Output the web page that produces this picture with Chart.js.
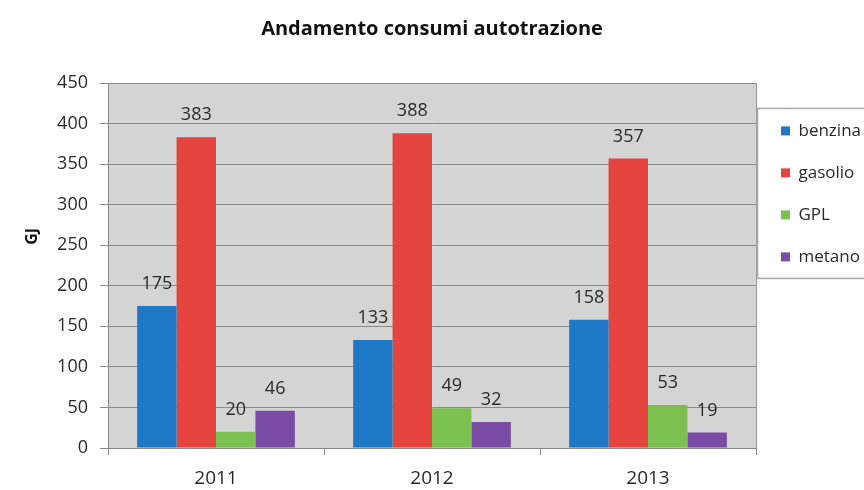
<!DOCTYPE html>
<html>
<head>
<meta charset="utf-8">
<script src="https://cdn.jsdelivr.net/npm/chart.js@4.4.1/dist/chart.umd.min.js"></script>
<style>
  body { margin: 0; background: #fff; }
  #wrap { width: 864px; height: 490px; }
</style>
</head>
<body>
<div id="wrap"><canvas id="consumiChart" width="864" height="490"></canvas></div>
<script>
var anni = ["2011", "2012", "2013"];
var benzina = [175, 133, 158];
var gasolio = [383, 388, 357];
var gpl = [20, 49, 53];
var metano = [46, 32, 19];
var nomiSerie = ["benzina", "gasolio", "GPL", "metano"];
var coloriSerie = ["#1f78c6", "#e5443f", "#7cc04f", "#7b4ca6"];

var FONT = "'Open Sans', sans-serif";
var TXT = "#2a2a2a";

// sfondo grigio dell'area del grafico + bordo
var sfondoPlot = {
    id: "sfondoPlot",
    beforeDraw: function (chart) {
        var a = chart.chartArea;
        var ctx = chart.ctx;
        ctx.save();
        ctx.fillStyle = "#d4d4d4";
        ctx.fillRect(a.left, a.top, a.right - a.left, a.bottom - a.top);
        ctx.restore();
    },
    afterDraw: function (chart) {
        var a = chart.chartArea;
        var ctx = chart.ctx;
        ctx.save();
        ctx.strokeStyle = "#9a9a9a";
        ctx.lineWidth = 1;
        ctx.beginPath();
        ctx.moveTo(a.right + 0.5, a.top);
        ctx.lineTo(a.right + 0.5, a.bottom);
        ctx.stroke();
        // cornice della legenda
        var lg = chart.legend;
        if (lg && lg.legendHitBoxes && lg.legendHitBoxes.length) {
            var hb = lg.legendHitBoxes;
            var top = hb[0].top - 14;
            var bottom = hb[hb.length - 1].top + hb[hb.length - 1].height + 13;
            ctx.strokeStyle = "#a8a8a8";
            ctx.lineWidth = 1.5;
            ctx.strokeRect(lg.left + 1.5, top, lg.width + 20, bottom - top);
        }
        ctx.restore();
    }
};

// valori sopra le barre
var etichette = {
    id: "etichette",
    afterDatasetsDraw: function (chart) {
        var ctx = chart.ctx;
        ctx.save();
        ctx.font = "18px " + FONT;
        ctx.fillStyle = TXT;
        ctx.textAlign = "center";
        ctx.textBaseline = "middle";
        chart.data.datasets.forEach(function (ds, i) {
            var meta = chart.getDatasetMeta(i);
            meta.data.forEach(function (bar, j) {
                ctx.fillText(String(ds.data[j]), bar.x, bar.y - 22);
            });
        });
        ctx.restore();
    }
};

var serie = [benzina, gasolio, gpl, metano];
var datasets = serie.map(function (valori, i) {
    return {
        label: nomiSerie[i],
        data: valori,
        backgroundColor: coloriSerie[i],
        borderWidth: 0,
        barPercentage: 1,
        categoryPercentage: 0.73
    };
});

var ctx = document.getElementById("consumiChart").getContext("2d");
var chart = new Chart(ctx, {
    type: "bar",
    data: { labels: anni, datasets: datasets },
    options: {
        responsive: false,
        animation: false,
        layout: { padding: 0 },
        plugins: {
            title: {
                display: true,
                text: "Andamento consumi autotrazione",
                color: "#111",
                font: { family: FONT, size: 20, weight: "bold" },
                padding: { top: 17, bottom: 42 }
            },
            legend: {
                position: "right",
                align: "start",
                fullSize: false,
                maxWidth: 108,
                title: { display: true, text: " ", font: { size: 12 }, padding: 0 },
                labels: {
                    boxWidth: 9,
                    boxHeight: 9,
                    padding: 25,
                    color: TXT,
                    font: { family: FONT, size: 17 }
                }
            },
            tooltip: { enabled: false }
        },
        scales: {
            x: {
                grid: {
                    offset: true,
                    drawOnChartArea: false,
                    drawTicks: true,
                    tickLength: 7,
                    color: "#8a8a8a"
                },
                border: { color: "#8a8a8a" },
                ticks: {
                    color: TXT,
                    padding: 12,
                    font: { family: FONT, size: 19 }
                },
                afterFit: function (scale) { scale.height = 42; }
            },
            y: {
                min: 0,
                max: 450,
                ticks: {
                    stepSize: 50,
                    color: TXT,
                    padding: 12,
                    font: { family: FONT, size: 18 }
                },
                grid: { color: "#8a8a8a", tickLength: 8 },
                border: { color: "#8a8a8a" },
                title: {
                    display: true,
                    text: "              GJ",
                    color: "#111",
                    font: { family: FONT, size: 16, weight: "bold" },
                    padding: { top: 23, bottom: 0 }
                },
                afterFit: function (scale) { scale.width = 108; }
            }
        }
    },
    plugins: [sfondoPlot, etichette]
});
</script>
</body>
</html>
